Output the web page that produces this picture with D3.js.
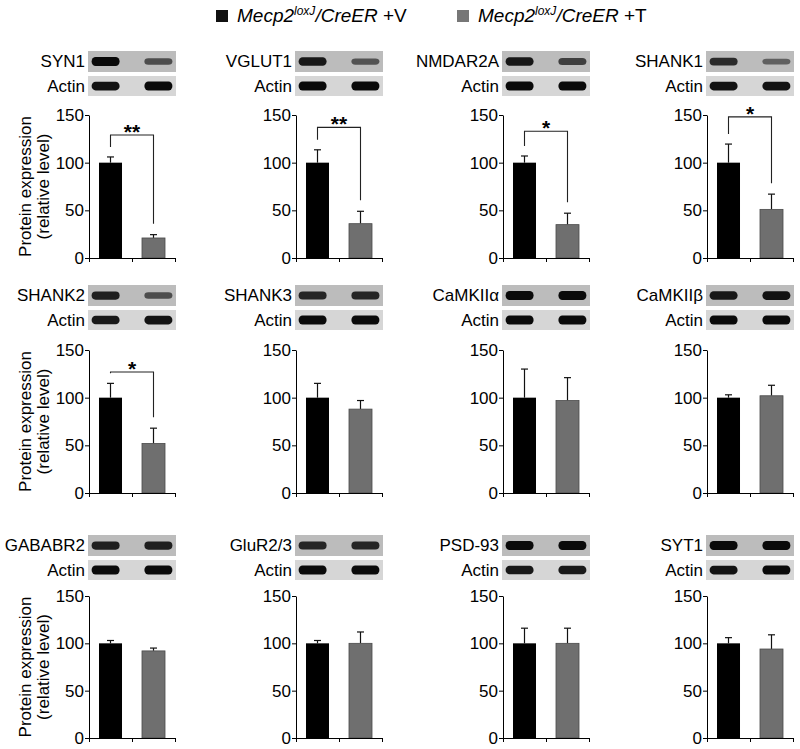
<!DOCTYPE html>
<html>
<head>
<meta charset="utf-8">
<script src="https://cdn.jsdelivr.net/npm/d3@7"></script>
<style>
  html, body { margin: 0; padding: 0; background: #fff; }
  svg { display: block; font-family: "Liberation Sans", Arial, Helvetica, sans-serif; }
</style>
</head>
<body>
<svg id="chart" width="800" height="749"></svg>
<script>
// ---------------- data ----------------
const categories = ["SYN1", "VGLUT1", "NMDAR2A", "SHANK1",
                    "SHANK2", "SHANK3", "CaMKIIα", "CaMKIIβ",
                    "GABABR2", "GluR2/3", "PSD-93", "SYT1"];
const groups = ["V", "T"];
const vehicleMean = [100, 100, 100, 100, 100, 100, 100, 100, 100, 100, 100, 100];
const vehicleErr  = [6, 13.5, 7, 19.5, 15, 15, 30, 3, 3, 3, 16, 6];
const tamoxMean   = [21, 36, 35, 51, 52, 88, 97, 102, 92, 100, 100, 94];
const tamoxErr    = [3.5, 13, 12, 16, 16, 9, 24, 11, 3, 12, 16, 15];
const significance = ["**", "**", "*", "*", "*", "", "", "", "", "", "", ""];
const bracketTop   = [129, 137, 133, 148, 127, null, null, null, null, null, null, null];
const yTicks = [0, 50, 100, 150];
const yLabelLines = ["Protein expression", "(relative level)"];
// band intensities of the blot images [lane V, lane T] (decorative)
const blotBands  = [[1, 0.5], [0.9, 0.45], [0.9, 0.6], [0.75, 0.35],
                    [0.85, 0.5], [0.8, 0.8], [1, 1], [0.9, 0.95],
                    [0.85, 0.85], [0.8, 0.8], [1, 1], [1, 1]];
const actinBands = [[0.95, 1], [1, 1], [1, 1], [0.95, 0.95],
                    [0.9, 0.95], [1, 1], [1, 1], [1, 1],
                    [1, 1], [1, 1], [0.9, 0.9], [0.95, 1]];

// ---------------- layout ----------------
const svg = d3.select("#chart");
const colX = [89, 296, 503, 707];
const rowY150 = [115, 350, 596];
const rowY0   = [258, 493, 738];
const blotTop = [51, 285, 535];
const axisW = 86;
const BLACK = "#000000", GREY = "#6f6f6f";

const xBand = d3.scaleBand().domain(groups).range([0, axisW])
  .paddingInner(0.465).paddingOuter(0.2325);
const xTickScale = d3.scaleLinear().domain([0, 2]).range([0, axisW]);

categories.forEach((name, i) => {
  const r = Math.floor(i / 4), c = i % 4;
  const ox = colX[c];
  const y = d3.scaleLinear().domain([0, 150]).range([rowY0[r], rowY150[r]]);
  const g = svg.append("g");

  // ---- blot images (schematic) ----
  const bw = axisW + 2, bx = ox - 1;
  [[blotTop[r], 21, "#bcbcbc", blotBands[i], name],
   [blotTop[r] + 25, 20, "#d6d6d6", actinBands[i], "Actin"]].forEach(([by, bh, bg, bands, label]) => {
    g.append("rect").attr("x", bx).attr("y", by).attr("width", bw).attr("height", bh).attr("fill", bg);
    bands.forEach((v, k) => {
      const cx = bx + bw * (k === 0 ? 0.2 : 0.8);
      const hh = 4 + 5 * v;
      g.append("rect")
        .attr("x", cx - 14).attr("y", by + bh / 2 - hh / 2)
        .attr("width", 28).attr("height", hh)
        .attr("rx", 4).attr("ry", hh / 2)
        .attr("fill", "#0a0a0a").attr("opacity", 0.25 + 0.75 * v);
    });
    g.append("text")
      .attr("x", bx - 3).attr("y", by + bh / 2)
      .attr("dy", "0.35em").attr("text-anchor", "end")
      .attr("font-size", 17).attr("fill", "#000").text(label);
  });

  // ---- bars ----
  const ax = g.append("g").attr("transform", `translate(${ox},0)`);
  const means = [vehicleMean[i], tamoxMean[i]];
  const errs = [vehicleErr[i], tamoxErr[i]];
  groups.forEach((gr, k) => {
    const x0 = xBand(gr), cx = x0 + xBand.bandwidth() / 2;
    // error bar (upward only)
    ax.append("line").attr("x1", cx).attr("x2", cx)
      .attr("y1", y(means[k])).attr("y2", y(means[k] + errs[k]))
      .attr("stroke", "#111").attr("stroke-width", 1.2);
    ax.append("line").attr("x1", cx - 3.5).attr("x2", cx + 3.5)
      .attr("y1", y(means[k] + errs[k])).attr("y2", y(means[k] + errs[k]))
      .attr("stroke", "#111").attr("stroke-width", 1.2);
    ax.append("rect")
      .attr("x", x0).attr("y", y(means[k]))
      .attr("width", xBand.bandwidth()).attr("height", y(0) - y(means[k]))
      .attr("fill", k === 0 ? BLACK : GREY)
      .attr("stroke", k === 0 ? "none" : "#4a4a4a").attr("stroke-width", 0.8);
  });

  // ---- significance bracket ----
  if (significance[i]) {
    const c0 = xBand("V") + xBand.bandwidth() / 2;
    const c1 = xBand("T") + xBand.bandwidth() / 2;
    const top = y(bracketTop[i]);
    const l0 = y(vehicleMean[i] + vehicleErr[i]) - 10;
    const l1 = y(tamoxMean[i] + tamoxErr[i]) - 11;
    ax.append("path")
      .attr("d", `M${c0},${l0}V${top}H${c1}V${l1}`)
      .attr("fill", "none").attr("stroke", "#222").attr("stroke-width", 1.1);
    ax.append("text")
      .attr("x", (c0 + c1) / 2).attr("y", top + 4)
      .attr("text-anchor", "middle").attr("font-size", 21).attr("font-weight", "bold")
      .attr("fill", "#000").text(significance[i]);
  }

  // ---- axes ----
  const yAxis = d3.axisLeft(y).tickValues(yTicks).tickSize(4).tickSizeOuter(0).tickPadding(1);
  const ya = ax.append("g").call(yAxis);
  ya.selectAll("text").attr("font-size", 17).attr("fill", "#000")
    .attr("font-family", "Liberation Sans, Arial, sans-serif");
  ya.selectAll("line,path").attr("stroke", "#000");

  const xAxis = d3.axisBottom(xTickScale).tickValues([0, 1, 2]).tickFormat("")
    .tickSize(4).tickSizeOuter(0);
  const xa = ax.append("g").attr("transform", `translate(0,${y(0)})`).call(xAxis);
  xa.selectAll("line,path").attr("stroke", "#000");

  // ---- y label (first column only) ----
  if (c === 0) {
    const cy = (y(0) + y(150)) / 2;
    yLabelLines.forEach((t, k) => {
      g.append("text")
        .attr("transform", `translate(${25 + k * 18},${cy}) rotate(-90)`)
        .attr("text-anchor", "middle").attr("dy", "0.35em")
        .attr("font-size", 17).attr("fill", "#000").text(t);
    });
  }
});

// ---------------- legend ----------------
const legendItems = [
  { x: 216, color: "#111", tail: " +V" },
  { x: 457, color: "#777", tail: " +T" }
];
legendItems.forEach(d => {
  svg.append("rect").attr("x", d.x).attr("y", 10).attr("width", 12).attr("height", 12).attr("fill", d.color);
  const t = svg.append("text").attr("x", d.x + 21).attr("y", 22).attr("font-size", 19).attr("fill", "#000");
  t.append("tspan").attr("font-style", "italic").text("Mecp2");
  t.append("tspan").attr("font-style", "italic").attr("font-size", 12).attr("dy", -7).text("loxJ");
  t.append("tspan").attr("font-style", "italic").attr("dy", 7).text("/CreER");
  t.append("tspan").text(d.tail);
});
</script>
</body>
</html>
